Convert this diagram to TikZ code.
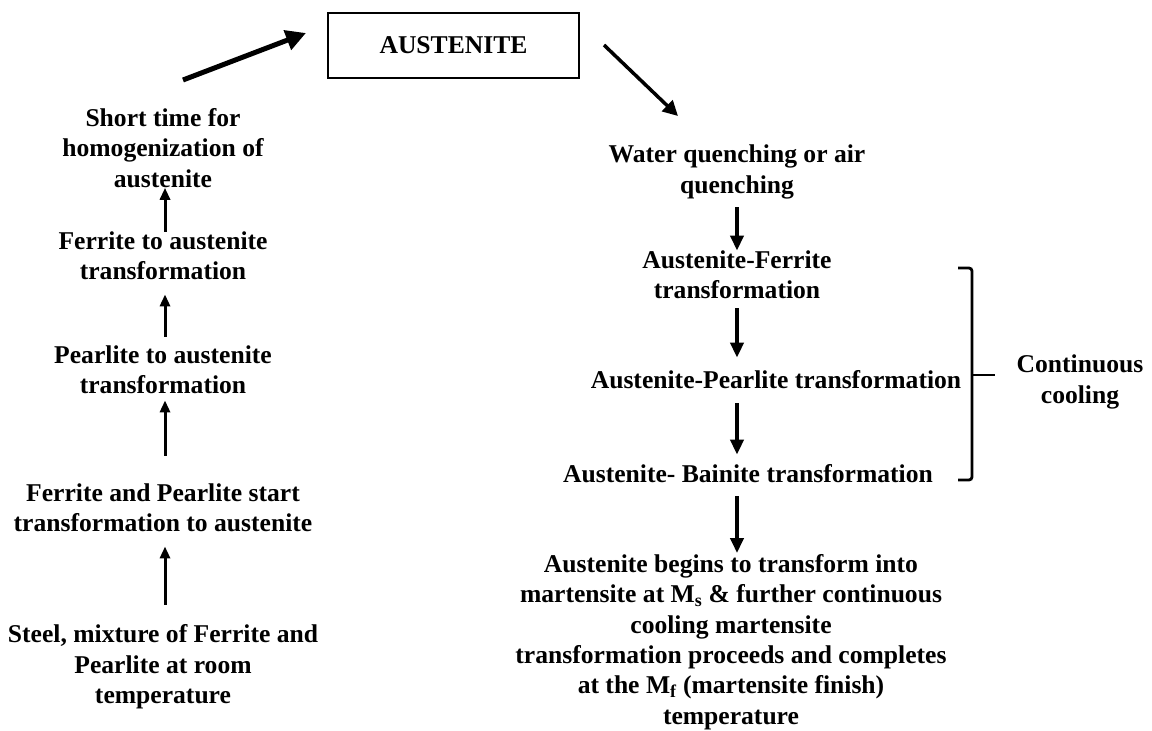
\documentclass[tikz,border=0pt]{standalone}
\usepackage{fontspec}
\setmainfont{Liberation Serif}
\usetikzlibrary{arrows.meta,calc}
\tikzset{
  txt/.style={align=center,inner sep=0pt,font=\fontsize{25.6}{30.4}\selectfont\bfseries},
  larr/.style={line width=3pt,-{Triangle[length=12pt,width=10pt]}},
  rarr/.style={line width=3.8pt,-{Triangle[length=15pt,width=13pt]}},
  bigarr/.style={line width=5pt,-{Triangle[length=20pt,width=20pt]}},
  medarr/.style={line width=3.5pt,-{Triangle[length=15pt,width=15pt]}},
  boxst/.style={draw,line width=2.5pt,minimum width=251pt,minimum height=65pt,inner sep=0pt,font=\fontsize{25.6}{30.4}\selectfont\bfseries}
}
\begin{document}
\begin{tikzpicture}[x=1pt,y=-1pt]
\useasboundingbox (0,0) rectangle (1152,731);
% left column
\node[txt] (l1) at (163,148) {Short time for\\homogenization of\\austenite};
\node[txt] (l2) at (163,256) {Ferrite to austenite\\transformation};
\node[txt] (l3) at (163,370) {Pearlite to austenite\\transformation};
\node[txt] (l4) at (163,508) {Ferrite and Pearlite start\\transformation to austenite};
\node[txt] (l5) at (163,667) {Steel, mixture of Ferrite and\\Pearlite at room\\temperature};
\coordinate (lx) at (165,0);
\draw[larr] (l2.north -| lx) -- (l1.south -| lx);
\draw[larr,shorten <=9pt,shorten >=14pt] (l3.north -| lx) -- (l2.south -| lx);
\draw[larr,shorten <=28pt,shorten >=6pt] (l4.north -| lx) -- (l3.south -| lx);
\draw[larr,shorten <=20pt,shorten >=14pt] (l5.north -| lx) -- (l4.south -| lx);
% top box
\node[boxst] (aus) at (453.5,45.5) {AUSTENITE};
\coordinate (ta) at (183,80);
\coordinate (tb) at (306,33);
\draw[bigarr] (ta) -- (tb);
\coordinate (rs) at (604,45);
\coordinate (re) at (678,116);
% right column
\node[txt] (r1) at (737,172) {Water quenching or air\\quenching};
\node[txt] (r2) at (737,275) {Austenite-Ferrite\\transformation};
\node[txt] (r3) at (776,380) {Austenite-Pearlite transformation};
\node[txt] (r4) at (748,474) {Austenite- Bainite transformation};
\node[txt] (r5) at (731,642) {Austenite begins to transform into\\martensite at M\textsubscript{s} \& further continuous\\cooling martensite\\transformation proceeds and completes\\at the M\textsubscript{f} (martensite finish)\\temperature};
\coordinate (rx) at (737,0);
\draw[medarr] (rs) -- (re);
\draw[rarr,shorten <=8pt,shorten >=0pt] (r1.south -| rx) -- (r2.north -| rx);
\draw[rarr,shorten <=9pt,shorten >=13pt] (r2.south -| rx) -- (r3.north -| rx);
\draw[rarr,shorten <=14pt,shorten >=10pt] (r3.south -| rx) -- (r4.north -| rx);
\draw[rarr,shorten <=13pt,shorten >=1pt] (r4.south -| rx) -- (r5.north -| rx);
% bracket
\coordinate (bt) at (958,268);
\coordinate (bb) at (958,480);
\coordinate (bm) at (995,375);
\draw[line width=2.8pt,rounded corners=3pt] (bt) -- (972,268) -- (972,480) -- (bb);
\draw[line width=2.8pt] (972,375) -- (bm);
\node[txt] (cc) at (1080,382) {Continuous\\cooling};
\end{tikzpicture}
\end{document}
